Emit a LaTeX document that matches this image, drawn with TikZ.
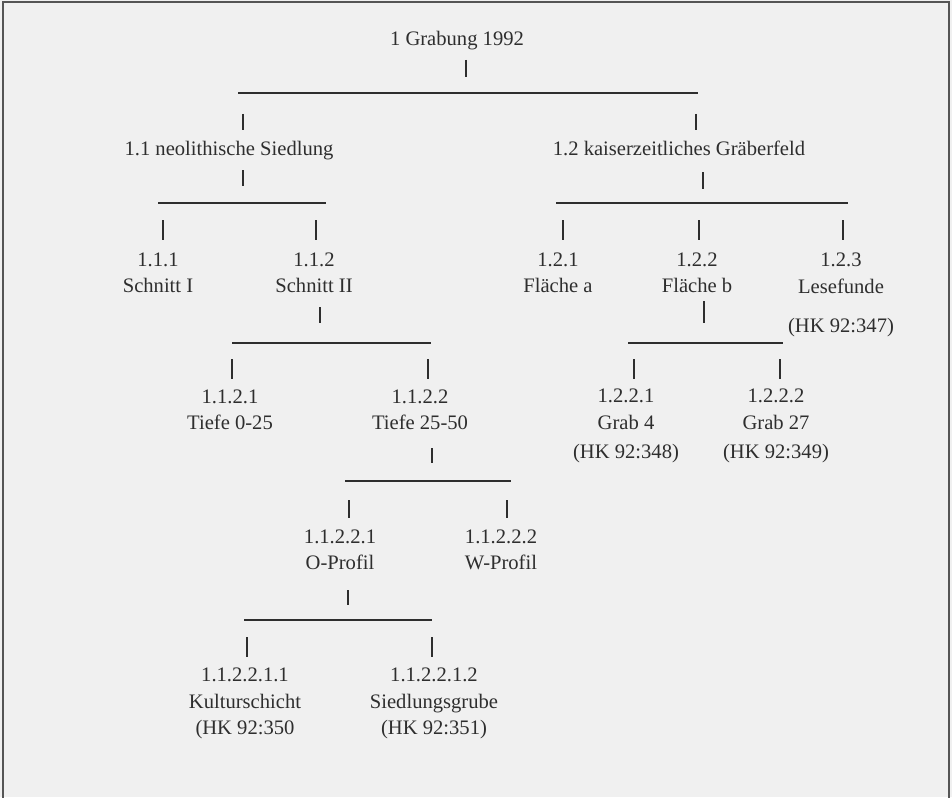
\documentclass[tikz,border=0pt]{standalone}
\usepackage{fontspec}
\setmainfont{Liberation Serif}
\definecolor{paper}{HTML}{F0F0F0}
\definecolor{ink}{HTML}{2E2E2E}
\definecolor{framec}{HTML}{555555}
\begin{document}
\begin{tikzpicture}[x=1pt,y=-1pt,
  lbl/.style={inner sep=0pt,align=center,anchor=base,text=ink,
    font=\fontsize{20.6}{26.5}\selectfont},
  tick/.style={draw=ink,line width=1.1pt},
  bar/.style={draw=ink,line width=1.1pt}]
\clip (0,0) rectangle (952,797);
\fill[paper] (0,0) rectangle (952,797);
\draw[framec,line width=1.4pt] (3,2) rectangle (949,810);

% text nodes (base anchor = baseline of the last line)
\node[lbl] (g) at (457,46) {1 Grabung 1992};
\node[lbl] (n11) at (229,155) {1.1 neolithische Siedlung};
\node[lbl] (n12) at (679,155) {1.2 kaiserzeitliches Gräberfeld};
\node[lbl] (n111) at (158,292.5) {1.1.1\\Schnitt I};
\node[lbl] (n112) at (314,292.5) {1.1.2\\Schnitt II};
\node[lbl] (n121) at (558,292.5) {1.2.1\\Fläche a};
\node[lbl] (n122) at (697,292.5) {1.2.2\\Fläche b};
\node[lbl] (n123) at (841,332.5) {1.2.3\\Lesefunde\\[13pt](HK 92:347)};
\node[lbl] (n1121) at (230,429.5) {1.1.2.1\\Tiefe 0-25};
\node[lbl] (n1122) at (420,429.5) {1.1.2.2\\Tiefe 25-50};
\node[lbl] (n1221) at (626,458.5) {1.2.2.1\\Grab 4\\[3pt](HK 92:348)};
\node[lbl] (n1222) at (776,458.5) {1.2.2.2\\Grab 27\\[3pt](HK 92:349)};
\node[lbl] (n11221) at (340,569.5) {1.1.2.2.1\\O-Profil};
\node[lbl] (n11222) at (501,569.5) {1.1.2.2.2\\W-Profil};
\node[lbl] (n112211) at (245,734.5) {1.1.2.2.1.1\\Kulturschicht\\(HK 92:350};
\node[lbl] (n112212) at (434,734.5) {1.1.2.2.1.2\\Siedlungsgrube\\(HK 92:351)};

% level 1
\coordinate (tg) at (466,60);
\draw[tick] (tg) -- ++(0,17);
\coordinate (b1l) at (238,93); \coordinate (b1r) at (698,93);
\draw[bar] (b1l) -- (b1r);
\coordinate (t11) at (243,114); \coordinate (t12) at (696,114);
\draw[tick] (t11) -- ++(0,16);
\draw[tick] (t12) -- ++(0,16);

% level 2
\coordinate (u11) at (243,170); \coordinate (u12) at (703,172);
\draw[tick] (u11) -- ++(0,16);
\draw[tick] (u12) -- ++(0,17);
\coordinate (b2l) at (158,203); \coordinate (b2r) at (326,203);
\draw[bar] (b2l) -- (b2r);
\coordinate (b3l) at (556,203); \coordinate (b3r) at (848,203);
\draw[bar] (b3l) -- (b3r);
\coordinate (t111) at (163,220); \coordinate (t112) at (316,220);
\coordinate (t121) at (563,220); \coordinate (t122) at (699,220);
\coordinate (t123) at (843,220);
\foreach \c in {t111,t112,t121,t122,t123} \draw[tick] (\c) -- ++(0,20);

% level 3
\coordinate (u112) at (320,307); \coordinate (u122) at (704,301);
\draw[tick] (u112) -- ++(0,16);
\draw[tick] (u122) -- ++(0,22);
\coordinate (b4l) at (232,343); \coordinate (b4r) at (431,343);
\draw[bar] (b4l) -- (b4r);
\coordinate (b5l) at (628,343); \coordinate (b5r) at (783,343);
\draw[bar] (b5l) -- (b5r);
\coordinate (t1121) at (232,359); \coordinate (t1122) at (428,359);
\coordinate (t1221) at (634,359); \coordinate (t1222) at (780,359);
\foreach \c in {t1121,t1122,t1221,t1222} \draw[tick] (\c) -- ++(0,20);

% level 4
\coordinate (u1122) at (432,448);
\draw[tick] (u1122) -- ++(0,15);
\coordinate (b6l) at (345,481); \coordinate (b6r) at (511,481);
\draw[bar] (b6l) -- (b6r);
\coordinate (t11221) at (349,500); \coordinate (t11222) at (507,500);
\foreach \c in {t11221,t11222} \draw[tick] (\c) -- ++(0,18);

% level 5
\coordinate (u11221) at (348,590);
\draw[tick] (u11221) -- ++(0,15);
\coordinate (b7l) at (244,620); \coordinate (b7r) at (432,620);
\draw[bar] (b7l) -- (b7r);
\coordinate (t112211) at (247,637); \coordinate (t112212) at (432,637);
\foreach \c in {t112211,t112212} \draw[tick] (\c) -- ++(0,20);
\end{tikzpicture}
\end{document}
